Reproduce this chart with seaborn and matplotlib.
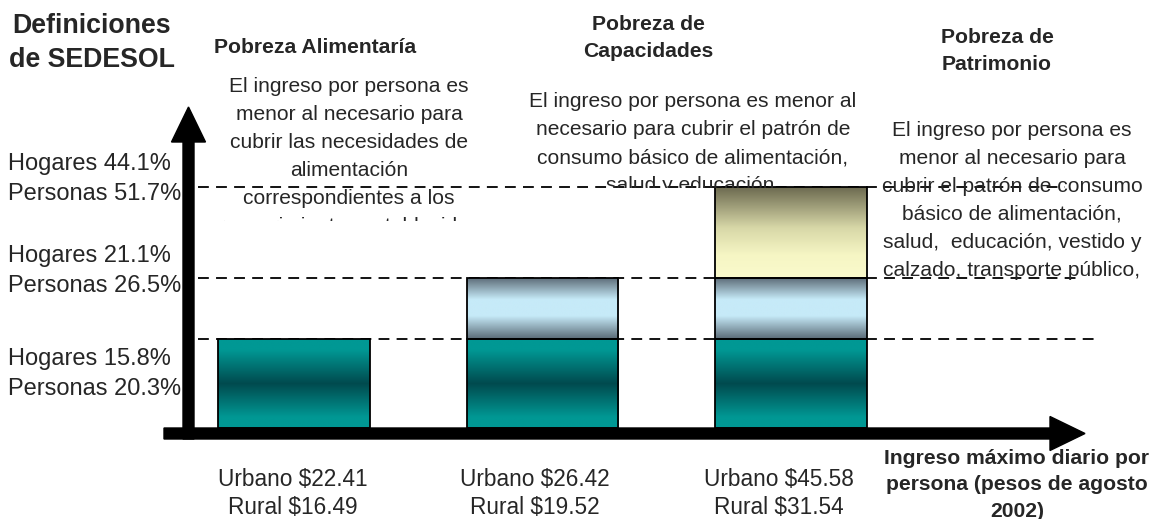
import numpy as np
import pandas as pd
import matplotlib
matplotlib.use("Agg")
import matplotlib.pyplot as plt
import matplotlib.transforms as mtransforms
from matplotlib.colors import LinearSegmentedColormap
from matplotlib.patches import FancyArrow
import seaborn as sns

# --- data -------------------------------------------------------------
categories = ["Pobreza Alimentaría", "Pobreza de Capacidades", "Pobreza de Patrimonio"]
# schematic height of each stacked band (not to scale with the percentages)
band_heights = [89, 61, 91]
# which poverty lines reach each band
bars_in_band = [categories, categories[1:], categories[2:]]

level_labels = ["Hogares 15.8%\nPersonas 20.3%",
                "Hogares 21.1%\nPersonas 26.5%",
                "Hogares 44.1%\nPersonas 51.7%"]
titles = ["Pobreza Alimentaría", "Pobreza de\nCapacidades", "Pobreza de\nPatrimonio"]
descriptions = [
    "El ingreso por persona es\nmenor al necesario para\ncubrir las necesidades de\n"
    "alimentación\ncorrespondientes a los\nrequerimientos establecidos\nen la canasta alimentaria",
    "El ingreso por persona es menor al\nnecesario para cubrir el patrón de\n"
    "consumo básico de alimentación,\nsalud y educación.",
    "El ingreso por persona es\nmenor al necesario para\ncubrir el patrón de consumo\n"
    "básico de alimentación,\nsalud,  educación, vestido y\ncalzado, transporte público,\nvivienda.",
]
income_labels = ["Urbano $22.41\nRural $16.49",
                 "Urbano $26.42\nRural $19.52",
                 "Urbano $45.58\nRural $31.54"]
x_title = "Ingreso máximo diario por\npersona (pesos de agosto\n2002)"

# --- figure -----------------------------------------------------------
W, H, DPI = 1156, 519, 100
sns.set_style("white")
plt.rcParams["font.family"] = ["Liberation Sans", "DejaVu Sans"]

fig = plt.figure(figsize=(W / DPI, H / DPI), dpi=DPI)
ax = fig.add_axes([0, 0, 1, 1])
# pixel coordinates with origin at the top-left corner, for the layout
pix = mtransforms.Affine2D().scale(1 / DPI, -1 / DPI).translate(0, H / DPI) + fig.dpi_scale_trans

band_cmaps = [
    LinearSegmentedColormap.from_list("teal", [(0, "#009894"), (0.12, "#009894"), (0.5, "#004a4e"),
                                               (0.88, "#009894"), (1, "#009894")]),
    LinearSegmentedColormap.from_list("hielo", [(0, "#5e6e7a"), (0.35, "#c6eaf8"), (0.62, "#c6eaf8"),
                                                (1, "#5a6a76")]),
    LinearSegmentedColormap.from_list("crema", [(0, "#6c6a50"), (0.45, "#d8d8a8"), (0.75, "#f6f6c4"),
                                                (1, "#fafacc")]),
]
gradient = np.linspace(0, 1, 256).reshape(-1, 1)

bottom = 0
for height, cats, cmap in zip(band_heights, bars_in_band, band_cmaps):
    df = pd.DataFrame({"pobreza": cats, "altura": [height] * len(cats)})
    n_before = len(ax.patches)
    sns.barplot(data=df, x="pobreza", y="altura", order=categories, bottom=bottom,
                width=0.61, errorbar=None, ax=ax)
    for patch in ax.patches[n_before:]:
        patch.set_facecolor("none")
        patch.set_edgecolor("black")
        patch.set_linewidth(1.3)
        patch.set_zorder(3)
        x0, y0 = patch.get_x(), patch.get_y()
        img = ax.imshow(gradient, cmap=cmap, aspect="auto", interpolation="bilinear",
                        extent=[x0, x0 + patch.get_width(), y0, y0 + patch.get_height()], zorder=2)
        img.set_clip_path(patch)
    bottom += height

# dashed reference lines at each cumulative level
line_ends = [1097, 1077, 1065]
for level, x_end in zip(np.cumsum(band_heights), line_ends):
    ax.axhline(level, xmin=198 / W, xmax=x_end / W, color="black", lw=1.3,
               ls=(0, (6, 4)), zorder=1)

# axes arrows
ax.add_patch(FancyArrow(188.5, 439, 0, -332, width=11, head_width=34, head_length=35,
                        length_includes_head=True, color="black", transform=pix,
                        clip_on=False, zorder=5))
ax.add_patch(FancyArrow(164, 433.5, 921, 0, width=11, head_width=34, head_length=35,
                        length_includes_head=True, color="black", transform=pix,
                        clip_on=False, zorder=5))

# texts
ax.text(92, 13, "Definiciones\nde SEDESOL", transform=pix, ha="center", va="top",
        fontsize=19.3, fontweight="bold", linespacing=1.4)

for label, y in zip(level_labels, [348, 245, 153]):
    ax.text(8, y, label, transform=pix, ha="left", va="top", fontsize=17, linespacing=1.45)

for title, (x, y) in zip(titles, [(315, 38), (648, 15), (997, 28)]):
    ax.text(x, y, title, transform=pix, ha="center", va="top", fontsize=15.2,
            fontweight="bold", linespacing=1.52)

desc_boxes = [(349, 77, 221), (693, 92, 188), (1012, 121, 284)]
for desc, (x, y, y_clip) in zip(descriptions, desc_boxes):
    t = ax.text(x, y, desc, transform=pix, ha="center", va="top", fontsize=15.1,
                linespacing=1.6, zorder=4)
    t.set_clip_box(mtransforms.TransformedBbox(
        mtransforms.Bbox([[x - 200, y - 10], [x + 200, y_clip]]), pix))
    t.set_clip_on(True)

for label, x in zip(income_labels, [293, 535, 779]):
    ax.text(x, 468, label, transform=pix, ha="center", va="top", fontsize=16.3, linespacing=1.28)

ax.text(1017, 449, x_title, transform=pix, ha="center", va="top", fontsize=15.2,
        fontweight="bold", linespacing=1.49, zorder=6)

x_center0, x_step, base_px = 294, 248.5, 428
ax.set_xlim(-x_center0 / x_step, (W - x_center0) / x_step)
ax.set_ylim(-(H - base_px), base_px)
ax.axis("off")

fig.savefig("out.png", dpi=DPI)
